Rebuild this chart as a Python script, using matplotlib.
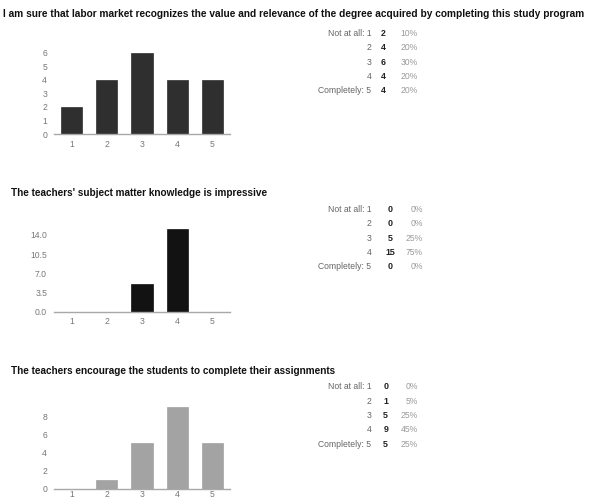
import matplotlib
matplotlib.use("Agg")
import matplotlib.pyplot as plt

plt.rcParams["font.family"] = ["Liberation Sans", "DejaVu Sans"]

W, H = 589, 499

# Survey questions and response counts (scale 1..5)
titles = [
    "I am sure that labor market recognizes the value and relevance of the degree acquired by completing this study program",
    "The teachers' subject matter knowledge is impressive",
    "The teachers encourage the students to complete their assignments",
]
scale = [1, 2, 3, 4, 5]
row_labels = ["Not at all: 1", "2", "3", "4", "Completely: 5"]
counts_q1 = [2, 4, 6, 4, 4]
counts_q2 = [0, 0, 5, 15, 0]
counts_q3 = [0, 1, 5, 9, 5]
pct_q1 = ["10%", "20%", "30%", "20%", "20%"]
pct_q2 = ["0%", "0%", "25%", "75%", "0%"]
pct_q3 = ["0%", "5%", "25%", "45%", "25%"]
yticks_q1 = [0, 1, 2, 3, 4, 5, 6]
yticks_q2 = [0.0, 3.5, 7.0, 10.5, 14.0]
yticks_q3 = [0, 2, 4, 6, 8]

# layout of each block (pixel units, y measured from top)
blocks = [
    dict(title=titles[0], counts=counts_q1, pct=pct_q1, yticks=yticks_q1, fmt="{:g}",
         color="#2f2f2f", title_xy=(3, 14), title_fs=7.28, base=134, ppu=13.55, ymax=6.5,
         row0=33.3, count_x=383.5, pct_x=417.5, xpad=4),
    dict(title=titles[1], counts=counts_q2, pct=pct_q2, yticks=yticks_q2, fmt="{:.1f}",
         color="#121212", title_xy=(10.5, 192.5), title_fs=7.2, base=311.7, ppu=5.48, ymax=15.5,
         row0=209.3, count_x=390, pct_x=422.5, xpad=4),
    dict(title=titles[2], counts=counts_q3, pct=pct_q3, yticks=yticks_q3, fmt="{:g}",
         color="#a3a3a3", title_xy=(10.5, 370.5), title_fs=7.2, base=488.7, ppu=9.08, ymax=9.5,
         row0=386.7, count_x=385.7, pct_x=417.7, xpad=1.2),
]

fig = plt.figure(figsize=(W / 100, H / 100), dpi=100)
fig.patch.set_facecolor("white")


def fx(px):
    return px / W


def fy(py):
    return 1 - py / H


row_step = 14.4
label_right = 371.5

for b in blocks:
    fig.text(fx(b["title_xy"][0]), fy(b["title_xy"][1]), b["title"], fontsize=b["title_fs"],
             fontweight="bold", color="#111111", ha="left", va="center")

    height_px = b["ymax"] * b["ppu"]
    ax = fig.add_axes([fx(54), fy(b["base"]), 176 / W, height_px / H])
    ax.bar(scale, b["counts"], width=0.6, color=b["color"], edgecolor=b["color"],
           linewidth=0.5, zorder=2)
    ax.set_xlim(0.5, 5.5)
    ax.set_ylim(0, b["ymax"])
    ax.set_xticks(scale)
    ax.set_xticklabels([str(s) for s in scale])
    ax.set_yticks(b["yticks"])
    ax.set_yticklabels([b["fmt"].format(v) for v in b["yticks"]])
    for side in ("top", "right", "left"):
        ax.spines[side].set_visible(False)
    ax.spines["bottom"].set_color("#a8a8a8")
    ax.spines["bottom"].set_linewidth(1.0)
    ax.tick_params(axis="both", length=0, labelsize=6.2, labelcolor="#777777")
    ax.tick_params(axis="y", pad=5)
    ax.tick_params(axis="x", pad=b["xpad"])
    ax.set_facecolor("none")

    for i, (lab, c, p) in enumerate(zip(row_labels, b["counts"], b["pct"])):
        y = b["row0"] + i * row_step
        fig.text(fx(label_right), fy(y), lab, fontsize=6.2, color="#666666",
                 ha="right", va="center")
        fig.text(fx(b["count_x"]), fy(y), str(c), fontsize=6.4, fontweight="bold",
                 color="#222222", ha="center", va="center")
        fig.text(fx(b["pct_x"]), fy(y), p, fontsize=6.2, color="#9a9a9a",
                 ha="right", va="center")

fig.savefig("out.png", dpi=100)
